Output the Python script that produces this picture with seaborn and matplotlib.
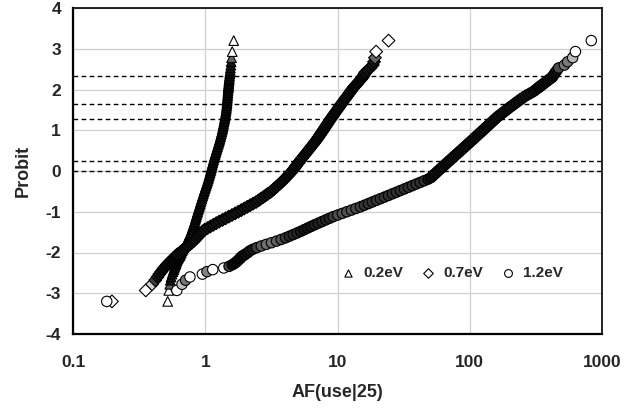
import numpy as np
import pandas as pd
import matplotlib
matplotlib.use("Agg")
import matplotlib.pyplot as plt
import seaborn as sns
from matplotlib.ticker import LogLocator, MultipleLocator, NullFormatter

sns.set_style("white")
plt.rcParams["font.family"] = ["Liberation Sans", "DejaVu Sans"]
plt.rcParams["font.weight"] = "bold"
plt.rcParams["axes.unicode_minus"] = False

series_names = ["0.2eV", "0.7eV", "1.2eV"]

# probit plotting positions (shared by the three series)
probit = [-3.20, -2.93, -2.78, -2.68, -2.60, -2.53, -2.47, -2.42, -2.38, -2.34, -2.30,
          -2.27, -2.24, -2.21, -2.18, -2.15, -2.13, -2.10, -2.08, -2.06, -2.04,
          -2.00, -1.96, -1.92, -1.88, -1.84, -1.80, -1.76, -1.72, -1.68, -1.64, -1.60,
          -1.56, -1.52, -1.48, -1.44, -1.40, -1.36, -1.32, -1.28, -1.24, -1.20, -1.16,
          -1.12, -1.08, -1.04, -1.00,
          -0.96, -0.92, -0.88, -0.84, -0.80, -0.76, -0.72, -0.68, -0.64, -0.60, -0.56,
          -0.52, -0.48, -0.44, -0.40, -0.36, -0.32, -0.28, -0.24, -0.20, -0.16, -0.12,
          -0.08, -0.04, 0.00,
          0.04, 0.08, 0.12, 0.16, 0.20, 0.24, 0.28, 0.32, 0.36, 0.40, 0.44, 0.48, 0.52,
          0.56, 0.60, 0.64, 0.68, 0.72, 0.76, 0.80, 0.84, 0.88, 0.92, 0.96, 1.00,
          1.04, 1.08, 1.12, 1.16, 1.20, 1.24, 1.28, 1.32, 1.36, 1.40, 1.44, 1.48, 1.52,
          1.56, 1.60, 1.64, 1.68, 1.72, 1.76, 1.80, 1.84, 1.88, 1.92, 1.96, 2.00,
          2.04, 2.06, 2.08, 2.10, 2.13, 2.15, 2.18, 2.21, 2.24, 2.27, 2.30, 2.34, 2.38,
          2.42, 2.47, 2.53, 2.60, 2.68, 2.78, 2.93, 3.20]

af_02 = [0.520, 0.530, 0.540, 0.545, 0.552, 0.561, 0.570, 0.577, 0.583, 0.589, 0.595,
         0.600, 0.604, 0.609, 0.614, 0.621, 0.626, 0.634, 0.639, 0.644, 0.649,
         0.659, 0.668, 0.678, 0.688, 0.697, 0.707, 0.717, 0.726, 0.736, 0.746, 0.755,
         0.765, 0.775, 0.784, 0.792, 0.799, 0.807, 0.815, 0.824, 0.832, 0.839, 0.846,
         0.853, 0.860, 0.868, 0.875,
         0.883, 0.891, 0.899, 0.907, 0.915, 0.923, 0.931, 0.940, 0.948, 0.957, 0.966,
         0.975, 0.984, 0.994, 1.003, 1.013, 1.022, 1.033, 1.042, 1.051, 1.060, 1.069,
         1.078, 1.087, 1.096,
         1.105, 1.113, 1.121, 1.129, 1.138, 1.146, 1.156, 1.165, 1.175, 1.185, 1.195,
         1.206, 1.216, 1.227, 1.238, 1.249, 1.260, 1.271, 1.282, 1.292, 1.302, 1.312,
         1.322, 1.332, 1.343,
         1.351, 1.359, 1.367, 1.375, 1.383, 1.391, 1.400, 1.407, 1.414, 1.421, 1.428,
         1.435, 1.441, 1.446, 1.451, 1.456, 1.460, 1.464, 1.467, 1.471, 1.475, 1.478,
         1.482, 1.485, 1.489,
         1.494, 1.496, 1.498, 1.500, 1.503, 1.505, 1.508, 1.511, 1.514, 1.518, 1.521,
         1.526, 1.531, 1.536, 1.543, 1.550, 1.560, 1.569, 1.581, 1.600, 1.641]

af_07 = [0.197, 0.355, 0.396, 0.419, 0.436, 0.450, 0.465, 0.478, 0.489, 0.501, 0.513,
         0.524, 0.536, 0.547, 0.559, 0.571, 0.580, 0.592, 0.601, 0.610, 0.620,
         0.643, 0.665, 0.689, 0.713, 0.739, 0.765, 0.792, 0.818, 0.840, 0.862, 0.885,
         0.909, 0.933, 0.958, 0.990, 1.041, 1.095, 1.152, 1.212, 1.276, 1.349, 1.426,
         1.507, 1.592, 1.683, 1.778,
         1.873, 1.972, 2.076, 2.186, 2.301, 2.423, 2.530, 2.635, 2.744, 2.858, 2.976,
         3.099, 3.212, 3.314, 3.420, 3.528, 3.641, 3.757, 3.872, 3.978, 4.087, 4.198,
         4.312, 4.430, 4.550,
         4.648, 4.749, 4.851, 4.956, 5.063, 5.173, 5.289, 5.412, 5.536, 5.665, 5.796,
         5.929, 6.066, 6.203, 6.345, 6.489, 6.636, 6.787, 6.935, 7.073, 7.213, 7.355,
         7.499, 7.647, 7.798,
         7.945, 8.095, 8.248, 8.405, 8.564, 8.726, 8.892, 9.075, 9.262, 9.452, 9.647,
         9.845, 10.05, 10.25, 10.46, 10.68, 10.90, 11.13, 11.37, 11.61, 11.86, 12.11,
         12.36, 12.62, 12.89,
         13.18, 13.34, 13.51, 13.68, 13.93, 14.11, 14.37, 14.64, 14.92, 15.20, 15.49,
         15.73, 15.97, 16.22, 16.88, 17.70, 18.49, 18.88, 19.19, 19.59, 24.32]

af_12 = [0.180, 0.610, 0.667, 0.710, 0.766, 0.951, 1.030, 1.140, 1.380, 1.514, 1.603,
         1.660, 1.706, 1.750, 1.786, 1.828, 1.854, 1.884, 1.928, 1.972, 2.018,
         2.099, 2.175, 2.291, 2.455, 2.655, 2.897, 3.169, 3.458, 3.748, 4.049, 4.328,
         4.627, 4.946, 5.279, 5.605, 5.952, 6.318, 6.716, 7.167, 7.647, 8.157, 8.707,
         9.290, 10.05, 10.87, 11.77,
         12.73, 13.77, 14.89, 15.97, 17.13, 18.36, 19.69, 21.11, 22.64, 24.28, 26.03,
         27.90, 29.89, 32.03, 34.30, 36.76, 39.37, 42.20, 45.20, 48.42, 50.89, 52.48,
         54.11, 55.82, 57.54,
         59.37, 61.26, 63.21, 65.22, 67.30, 69.44, 71.66, 73.96, 76.33, 78.78, 81.31,
         83.92, 86.61, 89.40, 92.26, 95.17, 98.17, 101.3, 104.5, 107.8, 111.2, 114.7,
         118.3, 122.0, 125.9,
         129.8, 133.9, 138.0, 142.3, 146.8, 151.4, 156.1, 161.0, 166.7, 173.0, 179.5,
         186.2, 193.2, 200.4, 208.1, 216.3, 224.7, 233.5, 242.7, 252.2, 263.6, 277.3,
         291.5, 305.5, 317.0,
         328.9, 335.0, 341.2, 347.5, 357.4, 364.2, 374.5, 385.2, 396.1, 407.4, 419.8,
         427.9, 436.2, 444.6, 456.0, 469.9, 520.0, 549.5, 599.8, 629.5, 829.9]

ref_levels = [2.326, 1.645, 1.282, 0.253, 0.0]
x_ticks = [0.1, 1, 10, 100, 1000]
x_tick_labels = ["0.1", "1", "10", "100", "1000"]
y_ticks = [-4, -3, -2, -1, 0, 1, 2, 3, 4]

frames = []
for name, af in zip(series_names, [af_02, af_07, af_12]):
    frames.append(pd.DataFrame({"AF": af, "Probit": probit, "Ea": name}))
df = pd.concat(frames, ignore_index=True)

fig = plt.figure(figsize=(6.44, 4.09), dpi=100)
ax = fig.add_axes([73 / 644, 1 - 334 / 409, 529 / 644, 326 / 409])
ax.set_xscale("log")
ax.set_xlim(0.1, 1000)
ax.set_ylim(-4, 4)


def overlap_shades(sub):
    """Darken markers where the open markers pile up on each other (as in the
    reference, where hundreds of overlapping outlines read as a black band)."""
    pts = ax.transData.transform(np.column_stack([sub["AF"], sub["Probit"]]))
    d = np.hypot(*np.diff(pts, axis=0).T)
    prev = np.r_[d[0], d]
    nxt = np.r_[d, d[-1]]
    dd = 0.5 * (prev + nxt)
    g = np.clip((dd - 3.8) / 4.0, 0, 1)
    return [(0.08 + 0.92 * v,) * 3 for v in g]


markers = {"0.2eV": "^", "0.7eV": "D", "1.2eV": "o"}
sizes = {"0.2eV": 48, "0.7eV": 42, "1.2eV": 56}
for name in series_names:
    sub = df[df["Ea"] == name]
    sns.scatterplot(data=sub, x="AF", y="Probit",
                    marker=markers[name], s=sizes[name], color="white",
                    edgecolor="black", linewidth=0.8, ax=ax, label=name,
                    zorder=3)
    ax.collections[-1].set_facecolor(overlap_shades(sub))

for lv in ref_levels:
    ax.axhline(lv, color="black", lw=1.0, ls=(0, (3.4, 2.4)), zorder=2)

ax.set_xlim(0.1, 1000)
ax.set_ylim(-4, 4)
ax.set_xticks(x_ticks, x_tick_labels)
ax.xaxis.set_minor_locator(LogLocator(base=10, subs=range(2, 10), numticks=20))
ax.xaxis.set_minor_formatter(NullFormatter())
ax.set_yticks(y_ticks)
ax.yaxis.set_minor_locator(MultipleLocator(0.2))

ax.grid(True, which="major", color="#cfcfcf", lw=0.9)
ax.set_axisbelow(True)

ax.tick_params(which="major", direction="inout", length=8.6, width=1.3,
               labelsize=12.5, top=False, right=False)
ax.tick_params(which="minor", direction="in", length=3.6, width=1.0,
               top=False, right=False)
ax.tick_params(axis="y", which="major", pad=4.3)
ax.tick_params(axis="x", which="major", pad=10.5)
for lab in ax.get_xticklabels() + ax.get_yticklabels():
    lab.set_fontweight("bold")

for side in ["left", "bottom"]:
    ax.spines[side].set_linewidth(1.6)
for side in ["top", "right"]:
    ax.spines[side].set_linewidth(1.2)
for sp in ax.spines.values():
    sp.set_color("black")
    sp.set_zorder(5)

ax.set_xlabel("AF(use|25)", fontsize=13, fontweight="bold")
ax.set_ylabel("Probit", fontsize=13, fontweight="bold")
ax.xaxis.set_label_coords(0.5, -0.153)
ax.yaxis.set_label_coords(-0.078, 0.5)

leg = ax.legend(loc="center", bbox_to_anchor=(0.716, 0.187), ncol=3, frameon=False,
                handletextpad=0.5, columnspacing=1.1, handlelength=1.0,
                markerscale=0.75, prop={"weight": "bold", "size": 11})
for h in leg.legend_handles:
    h.set_facecolor("white")
    h.set_edgecolor("black")

fig.savefig("out.png", dpi=100)
